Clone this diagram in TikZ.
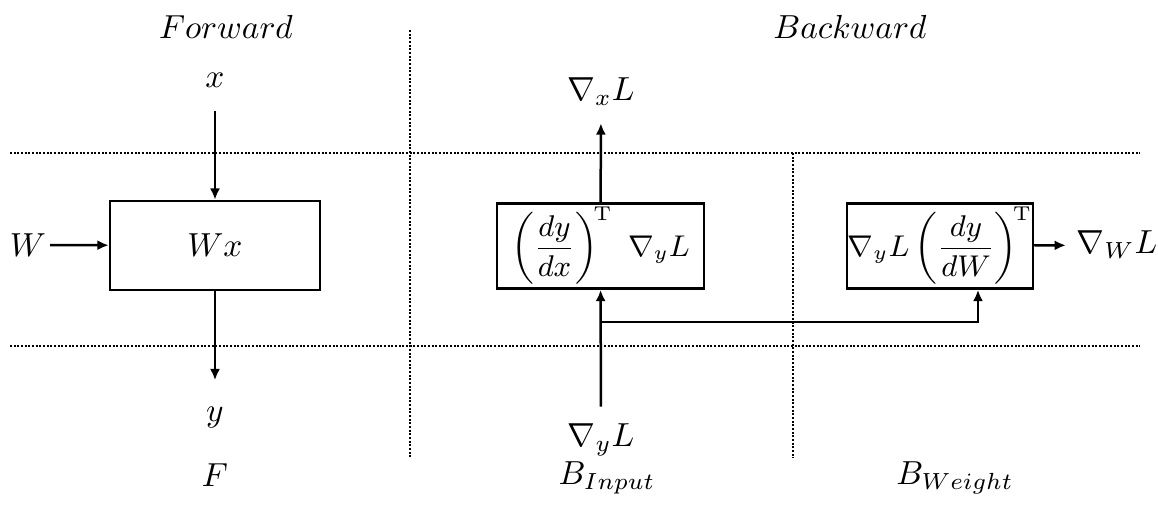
\documentclass[tikz,border=0pt]{standalone}
\usepackage{amsmath}
\usetikzlibrary{arrows.meta}
\begin{document}
\begin{tikzpicture}[x=0.3pt,y=-0.3pt,
  arr/.style={-{Latex[length=3.4pt,width=3pt]},line width=0.75pt},
  sep/.style={line width=0.7pt,dash pattern=on 0.6pt off 0.5pt},
  blk/.style={draw,line width=0.75pt,inner sep=0pt,font=\small},
  lbl/.style={inner sep=1pt}]
\useasboundingbox (0,0) rectangle (1158,504);
% separators
\draw[sep] (10,153) -- (1140,153);
\draw[sep] (10,346) -- (1140,346);
\draw[sep] (410,30) -- (410,458);
\draw[sep] (793,153) -- (793,458);
% titles
\node[lbl] (tf) at (226,27) {$Forward$};
\node[lbl] (tb) at (850,27) {$Backward$};
% forward
\node[blk,minimum width=63pt,minimum height=26.7pt,font=\normalsize] (f) at (215,245.5) {$Wx$};
\node[lbl] (x) at (215,80) {$x$};
\node[lbl] (W) at (28,245) {$W$};
\node[lbl] (y) at (215,418) {$y$};
\draw[arr,shorten <=6pt] (x) -- (f);
\draw[arr] (W) -- (f);
\draw[arr,shorten >=7pt] (f) -- (y);
% backward input
\node[blk,minimum width=62.1pt,minimum height=25.5pt] (bi) at (600.5,246) {$\left(\dfrac{dy}{dx}\right)^{\!\mathrm{T}}\ \nabla_{y}L$};
\node[lbl] (gx) at (601,92) {$\nabla_{x}L$};
\node[lbl] (gy) at (601,440) {$\nabla_{y}L$};
\draw[arr,shorten >=4pt] (bi) -- (gx);
\draw[arr,shorten <=4pt] (gy) -- (bi);
% backward weight
\node[blk,minimum width=55.8pt,minimum height=25.5pt] (bw) at (940,246) {$\nabla_{y}L\left(\dfrac{dy}{dW}\right)^{\!\mathrm{T}}$};
\node[lbl] (gw) at (1117,245) {$\nabla_{W}L$};
\draw[arr,shorten >=2pt] (bw) -- (gw);
\coordinate (br) at (601,322);
\draw[arr] (br) -| (bw.south -| 978,0);
% bottom labels
\node[lbl] (F) at (215,475) {$F$};
\node[lbl] (BI) at (607,478) {$B_{Input}$};
\node[lbl] (BW) at (955,478) {$B_{Weight}$};
\end{tikzpicture}
\end{document}
